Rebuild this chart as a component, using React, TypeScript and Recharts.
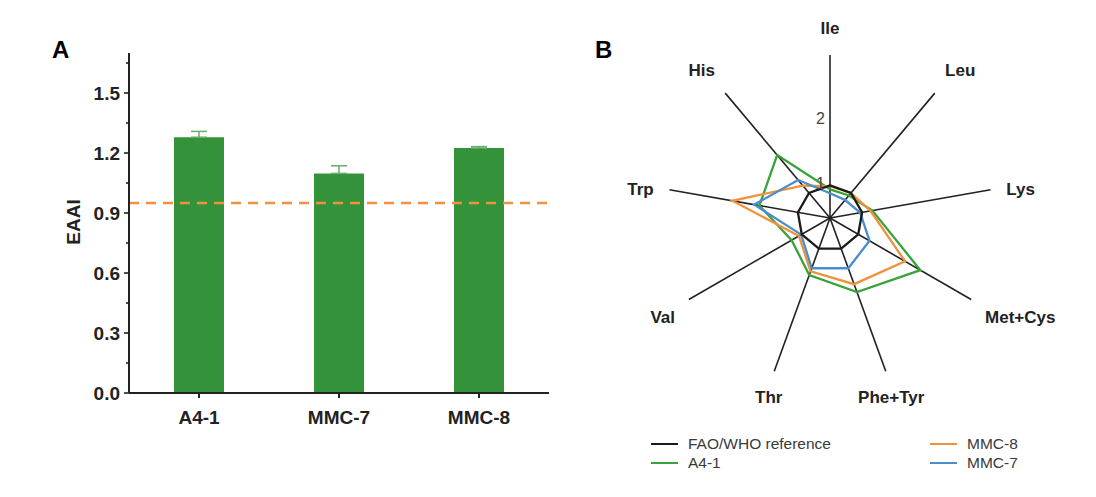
import React from "react";
import {
  BarChart, Bar, XAxis, YAxis, ErrorBar, ReferenceLine,
  RadarChart, Radar, PolarGrid, PolarAngleAxis, PolarRadiusAxis, Legend,
} from "recharts";

const FONT = '"Liberation Sans", Arial, Helvetica, sans-serif';
const AXIS = "#222";

// Panel A: EAAI per strain
const strains = ["A4-1", "MMC-7", "MMC-8"];
const eaai = [1.279, 1.098, 1.225];
const eaaiErr = [0.029, 0.038, 0.007];
const eaaiThreshold = 0.95;
const yTicks = [0, 0.15, 0.3, 0.45, 0.6, 0.75, 0.9, 1.05, 1.2, 1.35, 1.5, 1.65];
const xMinorTicks = [1, 2];

// Panel B: amino acid scores relative to FAO/WHO reference
const aminoAcids = ["Ile", "Leu", "Lys", "Met+Cys", "Phe+Tyr", "Thr", "Val", "Trp", "His"];
const faoWho = [1, 1, 1, 1, 1, 1, 1, 1, 1];
const a41 = [0.94, 0.95, 1.16, 2.1, 1.71, 1.43, 1.18, 1.6, 1.76];
const mmc8 = [0.99, 1.0, 1.13, 1.83, 1.58, 1.37, 1.05, 2.02, 1.15];
const mmc7 = [0.88, 0.86, 0.97, 1.2, 1.32, 1.32, 1.01, 1.68, 1.26];
const radialTicks = [1, 2];

const SERIES = [
  { key: "a41", name: "A4-1", color: "#3aa23a", values: a41 },
  { key: "mmc8", name: "MMC-8", color: "#f0913c", values: mmc8 },
  { key: "mmc7", name: "MMC-7", color: "#4a8dc9", values: mmc7 },
  { key: "ref", name: "FAO/WHO reference", color: "#1a1a1a", values: faoWho },
];

const barData = strains.map((s, i) => ({ strain: s, eaai: eaai[i], err: [0, eaaiErr[i]] }));

const radarData = aminoAcids.map((a, i) => {
  const row: Record<string, string | number> = { axis: a };
  SERIES.forEach((s) => { row[s.key] = s.values[i]; });
  return row;
});

const isMajor = (v: number) => Math.abs(v / 0.3 - Math.round(v / 0.3)) < 1e-6;

function YTick({ x, y, payload }: any) {
  const major = isMajor(payload.value);
  return (
    <g>
      <line x1={x - (major ? 5 : 3)} x2={x} y1={y} y2={y} stroke={AXIS} strokeWidth={1.6} />
      {major && (
        <text x={x - 9} y={y} textAnchor="end" dominantBaseline="central"
          fontFamily={FONT} fontWeight="bold" fontSize={19} fill={AXIS}>
          {payload.value.toFixed(1)}
        </text>
      )}
    </g>
  );
}

// category labels sit just past the spoke end, pushed out more vertically than sideways
function AngleTick({ x, y, payload }: any) {
  const rad = (payload.coordinate * Math.PI) / 180;
  const c = Math.cos(rad);
  const s = Math.sin(rad);
  const dx = 8 * c;
  const dy = Math.abs(s) > 0.3 ? 10 * s + 9 * Math.sign(s) : -1;
  const anchor = c > 0.5 ? "start" : c < -0.5 ? "end" : "middle";
  return (
    <text x={x + dx} y={y - dy} textAnchor={anchor} dominantBaseline="central"
      fontFamily={FONT} fontWeight="bold" fontSize={17} fill={AXIS}>
      {payload.value}
    </text>
  );
}

function RadiusTick({ x, y, payload }: any) {
  if (!radialTicks.includes(payload.value)) return <g />;
  return (
    <text x={x - 5} y={y - 2} textAnchor="end" dominantBaseline="central"
      fontFamily={FONT} fontSize={16} fill="#444">
      {payload.value}
    </text>
  );
}

function RadarLegend() {
  const order = [SERIES[3], SERIES[1], SERIES[0], SERIES[2]];
  return (
    <div style={{ display: "grid", gridTemplateColumns: "279px 160px" }}>
      {order.map((s) => (
        <div key={s.key} style={{ display: "flex", alignItems: "center", height: 19 }}>
          <span style={{ width: 27, borderTop: `2px solid ${s.color}`, marginRight: 10 }} />
          <span style={{ fontFamily: FONT, fontSize: 15.5, color: "#3a3a3a" }}>{s.name}</span>
        </div>
      ))}
    </div>
  );
}

export default function App() {
  return (
    <div style={{ position: "absolute", left: 0, top: 0, width: 1096, height: 497, background: "#fff" }}>
      <div style={{ position: "absolute", left: 52, top: 36, fontFamily: FONT, fontWeight: "bold", fontSize: 24 }}>A</div>
      <div style={{ position: "absolute", left: 595, top: 36, fontFamily: FONT, fontWeight: "bold", fontSize: 24 }}>B</div>
      <div style={{
        position: "absolute", left: 74, top: 222, transform: "translate(-50%, -50%) rotate(-90deg)",
        fontFamily: FONT, fontWeight: "bold", fontSize: 19, color: AXIS,
      }}>EAAI</div>

      <div style={{ position: "absolute", left: 0, top: 0 }}>
        <BarChart width={600} height={497} data={barData}
          margin={{ top: 53, right: 51, bottom: 74, left: 69 }}>
          <XAxis xAxisId="minor" type="number" domain={[0, 3]} ticks={xMinorTicks} height={0}
            tick={false} tickSize={3} axisLine={false} stroke={AXIS} strokeWidth={1.6} />
          <XAxis xAxisId="cat" dataKey="strain" height={30} tickSize={5} tickMargin={13}
            stroke={AXIS} strokeWidth={2}
            tick={{ fill: AXIS, fontFamily: FONT, fontWeight: "bold", fontSize: 19 }} />
          <YAxis width={60} domain={[0, 1.7]} ticks={yTicks} tickSize={0} tickMargin={0}
            tickLine={false} stroke={AXIS} strokeWidth={2} tick={YTick} interval={0} />
          <Bar xAxisId="cat" dataKey="eaai" fill="#34933a" barSize={50} isAnimationActive={false}>
            <ErrorBar dataKey="err" width={8} stroke="#6aae6c" strokeWidth={1.5} direction="y" />
          </Bar>
          <ReferenceLine xAxisId="cat" y={eaaiThreshold} stroke="#ef913e" strokeWidth={2.5}
            strokeDasharray="10 7" />
        </BarChart>
      </div>

      <div style={{ position: "absolute", left: 600, top: 0 }}>
        <RadarChart width={496} height={497} data={radarData} cx={230} cy={218} outerRadius={163}
          startAngle={90} endAngle={-270} margin={{ top: 0, right: 0, bottom: 0, left: 0 }}>
          <PolarGrid gridType="polygon" polarRadius={[]} stroke={AXIS} strokeWidth={1.6} />
          <PolarAngleAxis dataKey="axis" tick={AngleTick} tickLine={false} axisLine={false} />
          <PolarRadiusAxis angle={90} type="number" domain={[0.5, 2.5375]} ticks={radialTicks as any}
            tick={RadiusTick} axisLine={false} tickLine={false} />
          {SERIES.map((s) => (
            <Radar key={s.key} name={s.name} dataKey={s.key} stroke={s.color} strokeWidth={2.3}
              fill="none" fillOpacity={0} dot={false} isAnimationActive={false} />
          ))}
          <Legend content={RadarLegend} wrapperStyle={{ left: 51, top: 434, width: 440 }} />
        </RadarChart>
      </div>
    </div>
  );
}
